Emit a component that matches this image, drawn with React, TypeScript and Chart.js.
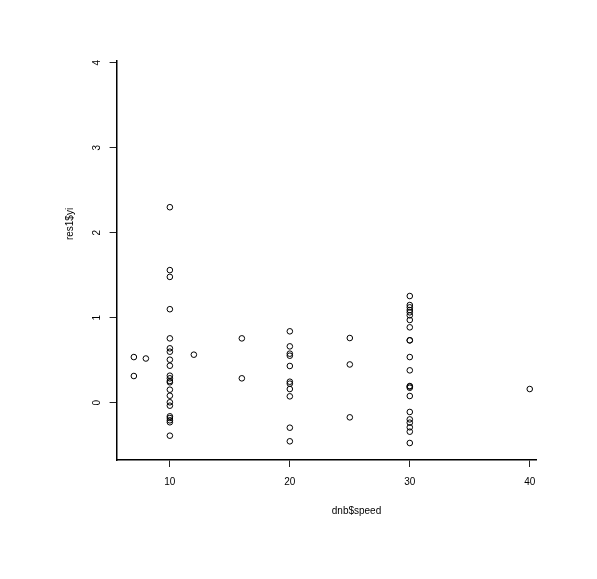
import { useEffect, useRef } from "react";
import { Chart, registerables } from "chart.js";

Chart.register(...registerables);

const speedValues = [
  7, 7, 8,
  10, 10, 10, 10, 10, 10, 10, 10, 10, 10, 10, 10, 10, 10, 10, 10, 10, 10, 10, 10, 10, 10,
  12, 16, 16,
  20, 20, 20, 20, 20, 20, 20, 20, 20, 20, 20,
  25, 25, 25,
  30, 30, 30, 30, 30, 30, 30, 30, 30, 30, 30, 30, 30, 30, 30, 30, 30, 30, 30, 30, 30, 30,
  40,
];

const residualValues = [
  0.537, 0.314, 0.52,
  2.3, 1.56, 1.48, 1.1, 0.757, 0.64, 0.6, 0.506, 0.435, 0.318, 0.287, 0.255, 0.24, 0.153, 0.082, 0.005, -0.035, -0.16, -0.18, -0.207, -0.23, -0.388,
  0.565, 0.757, 0.287,
  0.84, 0.663, 0.577, 0.553, 0.432, 0.247, 0.224, 0.161, 0.075, -0.294, -0.454,
  0.761, 0.45, -0.172,
  1.255, 1.149, 1.122, 1.09, 1.063, 1.028, 0.973, 0.887, 0.734, 0.734, 0.537, 0.381, 0.196, 0.19, 0.176, 0.079, -0.109, -0.196, -0.235, -0.289, -0.341, -0.474,
  0.161,
];

const xTickValues = [10, 20, 30, 40];
const yTickValues = [0, 1, 2, 3, 4];
const xAxisTitle = "dnb$speed";
const yAxisTitle = "res1$yi";

const FONT = '"Liberation Sans", Arial, Helvetica, sans-serif';

const titlePlugin = {
  id: "axisTitles",
  afterDraw(chart: any) {
    const ctx = chart.ctx;
    ctx.save();
    ctx.fillStyle = "#000";
    ctx.font = `10px ${FONT}`;
    ctx.textAlign = "center";
    ctx.textBaseline = "alphabetic";
    ctx.fillText(xAxisTitle, 356.5, 514);
    ctx.translate(72.5, 224);
    ctx.rotate(-Math.PI / 2);
    ctx.fillText(yAxisTitle, 0, 0);
    ctx.restore();
  },
};

export default function App() {
  const ref = useRef<HTMLCanvasElement>(null);
  useEffect(() => {
    const canvas = ref.current;
    if (!canvas) return;
    const chart = new Chart(canvas, {
      type: "scatter",
      data: {
        datasets: [
          {
            data: speedValues.map((x, i) => ({ x, y: residualValues[i] })),
            pointStyle: "circle",
            pointRadius: 2.8,
            pointBorderWidth: 1,
            pointBorderColor: "#000",
            pointBackgroundColor: "rgba(0,0,0,0)",
            borderColor: "#000",
            backgroundColor: "rgba(0,0,0,0)",
          },
        ],
      },
      options: {
        responsive: false,
        animation: false,
        devicePixelRatio: 1,
        layout: { padding: { left: 0, right: 60.3, top: 61, bottom: 0 } },
        plugins: {
          legend: { display: false },
          tooltip: { enabled: false },
        },
        scales: {
          x: {
            type: "linear",
            min: 5.56,
            max: 40.58,
            afterBuildTicks: (s: any) => {
              s.ticks = xTickValues.map((v) => ({ value: v }));
            },
            afterFit: (s: any) => {
              s.height = 119;
            },
            grid: { drawOnChartArea: false, drawTicks: true, tickLength: 7, color: "#222", lineWidth: 1 },
            border: { display: true, color: "#000", width: 1.5 },
            ticks: {
              font: { family: FONT, size: 10 },
              color: "#000",
              padding: 9.5,
              autoSkip: false,
              minRotation: 0,
              maxRotation: 0,
            },
          },
          y: {
            type: "linear",
            min: -0.674,
            max: 4.02,
            afterBuildTicks: (s: any) => {
              s.ticks = yTickValues.map((v) => ({ value: v }));
            },
            afterFit: (s: any) => {
              s.width = 116.6;
            },
            grid: { drawOnChartArea: false, drawTicks: true, tickLength: 7, color: "#222", lineWidth: 1 },
            border: { display: true, color: "#000", width: 1.5 },
            ticks: {
              font: { family: FONT, size: 10 },
              color: "#000",
              padding: 9.9,
              autoSkip: false,
              minRotation: 90,
              maxRotation: 90,
              crossAlign: "center",
            },
          },
        },
      },
      plugins: [titlePlugin],
    } as any);
    return () => chart.destroy();
  }, []);
  return (
    <div style={{ position: "fixed", left: 0, top: 0, width: 597, height: 579, background: "#fff" }}>
      <canvas ref={ref} width={597} height={579} style={{ display: "block" }} />
    </div>
  );
}
